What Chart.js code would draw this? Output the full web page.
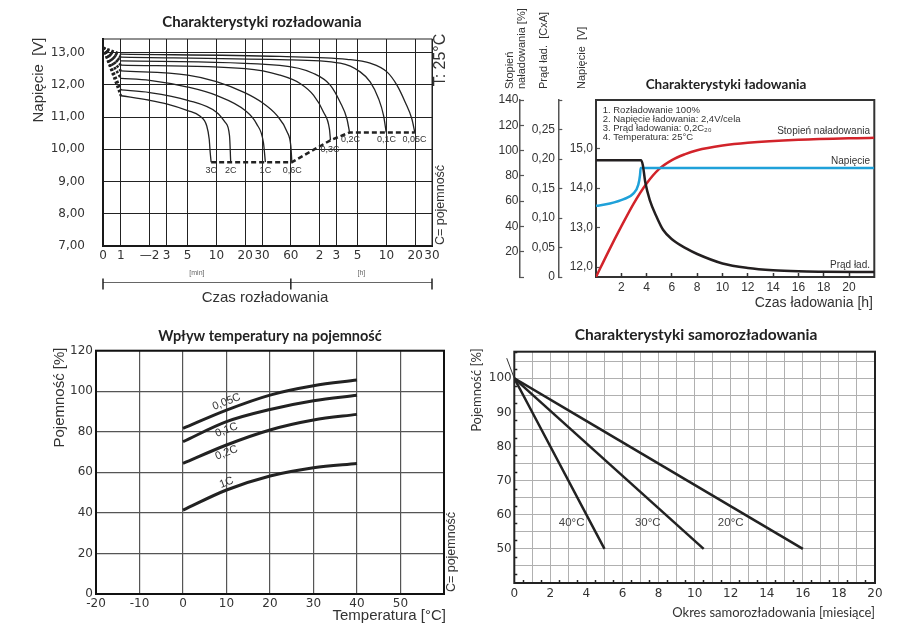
<!DOCTYPE html>
<html lang="pl">
<head>
<meta charset="utf-8">
<title>Charakterystyki akumulatora</title>
<script src="https://cdn.jsdelivr.net/npm/chart.js@4.4.1/dist/chart.umd.min.js"></script>
<style>
  html, body { margin: 0; padding: 0; background: #fff; }
  body { width: 916px; height: 637px; position: relative; overflow: hidden; }
  canvas { position: absolute; }
</style>
</head>
<body>
<canvas id="chart-discharge" width="460" height="312" style="left:0;top:0"></canvas>
<canvas id="chart-charge" width="456" height="312" style="left:460px;top:0"></canvas>
<canvas id="chart-temp" width="460" height="325" style="left:0;top:312px"></canvas>
<canvas id="chart-self" width="456" height="325" style="left:460px;top:312px"></canvas>
<script>
// --- Charakterystyki rozładowania: czas [min], napięcie [V] ---
const dischargeTicks = [0.65, 1, 2, 3, 5, 10, 20, 30, 60, 120, 180, 300, 600, 1200, 1800];
const dischargeTickLabels = ['0', '1', '—2', '3', '5', '10', '20', '30', '60', '2', '3', '5', '10', '20', '30'];
const voltTicks = [7, 8, 9, 10, 11, 12, 13];
const rateNames = ['3C', '2C', '1C', '0,6C', '0,3C', '0,2C', '0,1C', '0,05C'];
const curve3C = [[1, 11.66], [2, 11.52], [3, 11.41], [5, 11.2], [6.7, 11.03], [7.9, 10.73], [8.4, 10.31], [8.6, 9.9], [8.8, 9.6]];
const curve2C = [[1, 11.84], [2, 11.76], [5, 11.52], [10, 11.15], [12.3, 10.84], [13.7, 10.42], [14.1, 9.6]];
const curve1C = [[1, 12.2], [2, 12.14], [5, 11.93], [10, 11.67], [20, 11.2], [26.4, 10.78], [31, 10.21], [32.5, 9.6]];
const curve06C = [[1, 12.43], [5, 12.3], [10, 12.1], [20, 11.75], [30, 11.45], [42.9, 11.05], [54.6, 10.55], [60, 10.1], [61.5, 9.6]];
const curve03C = [[1, 12.61], [20, 12.5], [46, 12.3], [75, 12.04], [104, 11.67], [132, 11.15], [152, 10.63], [156, 10.28]];
const curve02C = [[1, 12.74], [46, 12.6], [104, 12.35], [155, 11.99], [197, 11.46], [232, 10.94], [247, 10.52]];
const curve01C = [[1, 12.86], [46, 12.78], [197, 12.67], [319, 12.4], [406, 12.09], [497, 11.57], [560, 11.05], [597, 10.52]];
const curve005C = [[1, 12.95], [46, 12.88], [232, 12.79], [406, 12.67], [608, 12.4], [773, 11.99], [944, 11.46], [1109, 10.94], [1190, 10.52]];
const cutoffLine = [[8.8, 9.6], [61.5, 9.6], [156, 10.28], [247, 10.52], [1190, 10.52]];
const fanStart = [0.65, 13.15];
// positions of the rate labels under the curve ends [min, V]
const rateLabelPos = [[8.8, 9.33], [14.1, 9.33], [32.5, 9.33], [62, 9.33], [154, 9.98], [252, 10.29], [600, 10.29], [1180, 10.29]];

// --- Charakterystyki ładowania: czas [h] ---
const chargeTicksX = [2, 4, 6, 8, 10, 12, 14, 16, 18, 20];
const levelHours = [0, 1, 2, 3, 4, 5, 6, 7, 8, 10, 12, 16, 22];
const levelPct = [0, 20.5, 40, 58.5, 74, 85.5, 92.5, 97, 100.3, 104, 106.2, 108.5, 110.2];
const voltHours = [0, 1.1, 2.2, 2.95, 3.34, 3.48, 3.53, 22];
const voltValues = [13.55, 13.61, 13.72, 13.86, 14.08, 14.33, 14.51, 14.51];
const currHours = [0, 3.55, 3.7, 3.9, 4.26, 4.79, 5.3, 6, 7.16, 8, 10, 12, 14, 16, 18, 22];
const currValues = [0.198, 0.198, 0.19, 0.16, 0.13, 0.102, 0.08, 0.064, 0.048, 0.039, 0.023, 0.0153, 0.0114, 0.0096, 0.009, 0.0085];
const chargeVoltTicks = [12, 13, 14, 15];

// --- Wpływ temperatury na pojemność: temperatura [°C], pojemność [%] ---
const tempC = [0, 10, 20, 30, 40];
const cap005C = [81.7, 90.7, 98.1, 102.7, 105.5];
const cap01C = [75.1, 85, 91, 95.3, 98];
const cap02C = [64.4, 73.5, 80.9, 85.8, 88.6];
const cap1C = [41.4, 51.3, 58.2, 62.3, 64.4];
const tempLabels = ['0,05C', '0,1C', '0,2C', '1C'];
const tempLabelPos = [[10, 94.8], [10, 80.9], [10, 69.7], [10, 54.9]];

// --- Charakterystyki samorozładowania: okres [miesiące], pojemność [%] ---
const months40 = [0, 5];
const months30 = [0, 10.5];
const months20 = [0, 16];
const selfCap = [100, 50];
const stubMonths = [-0.42, 0];
const stubCap = [105.9, 100];
const selfNames = ['40°C', '30°C', '20°C'];
const selfLabelPos = [[3.18, 57.5], [7.4, 57.5], [12, 57.5]];

Chart.defaults.font.family = '"Liberation Sans", Arial, sans-serif';
Chart.defaults.color = '#333';

function zip(xs, ys) { return xs.map((x, i) => ({ x: x, y: ys[i] })); }
function pairs(list) { return list.map(p => ({ x: p[0], y: p[1] })); }
function comma(v, d) { return v.toFixed(d).replace('.', ','); }

// keeps an axis box at a fixed size so the plot area lands where the picture has it
function fixBox(size) {
  return function (scale) {
    if (scale.isHorizontal()) scale.height = size; else scale.width = size;
    scale.paddingLeft = 0; scale.paddingRight = 0; scale.paddingTop = 0; scale.paddingBottom = 0;
  };
}
function setTicks(list) {
  return function (scale) { scale.ticks = list.map(v => ({ value: v })); };
}

function framePlugin(color, width) {
  return {
    id: 'frame',
    beforeDatasetsDraw(chart) {
      const a = chart.chartArea, ctx = chart.ctx;
      ctx.save();
      ctx.strokeStyle = color;
      ctx.lineWidth = width;
      ctx.strokeRect(a.left, a.top, a.right - a.left, a.bottom - a.top);
      ctx.restore();
    }
  };
}

function textPlugin(items) {
  return {
    id: 'texts',
    afterDatasetsDraw(chart) {
      const ctx = chart.ctx;
      items.forEach(t => {
        const x = t.xv !== undefined ? chart.scales[t.xs || 'x'].getPixelForValue(t.xv) : t.x;
        const y = t.yv !== undefined ? chart.scales[t.ys || 'y'].getPixelForValue(t.yv) : t.y;
        ctx.save();
        ctx.translate(x, y);
        if (t.rot) ctx.rotate(t.rot * Math.PI / 180);
        ctx.font = t.font;
        ctx.fillStyle = t.color || '#222';
        ctx.textAlign = t.align || 'center';
        ctx.textBaseline = 'middle';
        ctx.fillText(t.text, 0, 0);
        ctx.restore();
      });
    }
  };
}

function lineSet(data, color, width, extra) {
  return Object.assign({
    data: data, borderColor: color, borderWidth: width, pointRadius: 0,
    fill: false, cubicInterpolationMode: 'monotone'
  }, extra || {});
}

const numFont = { family: '"DejaVu Sans", sans-serif', size: 12 };

// ================= 1. Charakterystyki rozładowania =================
(function () {
  const curves = [curve3C, curve2C, curve1C, curve06C, curve03C, curve02C, curve01C, curve005C];
  const datasets = [];
  curves.forEach(c => {
    datasets.push(lineSet(pairs([fanStart, c[0]]), '#222', 2.6, { borderDash: [2.5, 2], cubicInterpolationMode: 'default', tension: 0 }));
    datasets.push(lineSet(pairs(c), '#222', 1.3));
  });
  datasets.push(lineSet(pairs(cutoffLine), '#222', 2.5, { borderDash: [5, 3], cubicInterpolationMode: 'default', tension: 0 }));

  const items = [
    { text: 'Charakterystyki rozładowania', x: 262, y: 22, font: 'bold 15px Lato' },
    { text: 'Napięcie  [V]', x: 39, y: 80, rot: -90, font: '15px "Liberation Sans"', color: '#333' },
    { text: 'Czas rozładowania', x: 265, y: 298, font: '15px "Liberation Sans"', color: '#333' },
    { text: 'T: 25°C', x: 441, y: 60, rot: -90, font: '16px "Liberation Sans"', color: '#333' },
    { text: 'C= pojemność', x: 441, y: 205, rot: -90, font: '12.5px "Liberation Sans"', color: '#333' }
  ];
  rateNames.forEach((n, i) => items.push({ text: n, xv: rateLabelPos[i][0], yv: rateLabelPos[i][1], font: '9px "Liberation Sans"', color: '#333' }));

  const bracketPlugin = {
    id: 'bracket',
    afterDraw(chart) {
      const sx = chart.scales.x, ctx = chart.ctx;
      const x0 = sx.getPixelForValue(dischargeTicks[0]);
      const x1 = sx.getPixelForValue(60);
      const x2 = sx.getPixelForValue(dischargeTicks[dischargeTicks.length - 1]);
      const y = 282.5;
      ctx.save();
      ctx.strokeStyle = '#666';
      ctx.lineWidth = 1;
      ctx.beginPath();
      ctx.moveTo(x0, y); ctx.lineTo(x2, y);
      ctx.stroke();
      ctx.strokeStyle = '#222';
      ctx.lineWidth = 1.5;
      ctx.beginPath();
      [x0, x1, x2].forEach(x => { ctx.moveTo(x, y - 4); ctx.lineTo(x, y + 7); });
      ctx.stroke();
      ctx.font = '7px "Liberation Sans"';
      ctx.fillStyle = '#666';
      ctx.textAlign = 'center';
      ctx.textBaseline = 'middle';
      ctx.fillText('[min]', (x0 + x1) / 2, 273);
      ctx.fillText('[h]', (x1 + x2) / 2, 273);
      ctx.restore();
    }
  };

  new Chart(document.getElementById('chart-discharge'), {
    type: 'line',
    data: { datasets: datasets },
    options: {
      responsive: false, animation: false, events: [], devicePixelRatio: 1,
      layout: { padding: { left: 0, top: 39, right: 28, bottom: 0 } },
      plugins: { legend: { display: false }, tooltip: { enabled: false } },
      scales: {
        x: {
          type: 'logarithmic', min: dischargeTicks[0], max: dischargeTicks[dischargeTicks.length - 1],
          afterBuildTicks: setTicks(dischargeTicks), afterFit: fixBox(66),
          grid: { color: '#222', lineWidth: 1, drawTicks: false },
          border: { display: true, color: '#111', width: 2 },
          ticks: { font: numFont, color: '#333', padding: 3, autoSkip: false, maxRotation: 0,
            callback: (v, i) => dischargeTickLabels[i] }
        },
        y: {
          type: 'linear', min: 7, max: 13.42,
          afterBuildTicks: setTicks(voltTicks), afterFit: fixBox(103),
          grid: { color: '#222', lineWidth: 1, drawTicks: false },
          border: { display: true, color: '#111', width: 2 },
          ticks: { font: numFont, color: '#333', padding: 18, callback: v => comma(v, 2) }
        }
      }
    },
    plugins: [framePlugin('#222', 1), textPlugin(items), bracketPlugin]
  });
})();

// ================= 2. Charakterystyki ładowania =================
(function () {
  const red = '#d2232a', blue = '#1fa1d9', black = '#231f20';
  const items = [
    { text: 'Charakterystyki ładowania', x: 266, y: 85, font: 'bold 13.5px Lato' },
    { text: 'Stopień', x: 50, y: 89, rot: -90, align: 'left', font: '11px "Liberation Sans"', color: '#333' },
    { text: 'naładowania [%]', x: 61.7, y: 89, rot: -90, align: 'left', font: '11px "Liberation Sans"', color: '#333' },
    { text: 'Prąd ład.  [CxA]', x: 84, y: 89, rot: -90, align: 'left', font: '11px "Liberation Sans"', color: '#333' },
    { text: 'Napięcie  [V]', x: 121.7, y: 89, rot: -90, align: 'left', font: '11px "Liberation Sans"', color: '#333' },
    { text: '1. Rozładowanie 100%', x: 142.7, y: 110.7, align: 'left', font: '9.5px "Liberation Sans"', color: '#333' },
    { text: '2. Napięcie ładowania: 2,4V/cela', x: 142.7, y: 119.7, align: 'left', font: '9.5px "Liberation Sans"', color: '#333' },
    { text: '3. Prąd ładowania: 0,2C₂₀', x: 142.7, y: 128.5, align: 'left', font: '9.5px "Liberation Sans"', color: '#333' },
    { text: '4. Temperatura: 25°C', x: 142.7, y: 137, align: 'left', font: '9.5px "Liberation Sans"', color: '#333' },
    { text: 'Stopień naładowania', x: 410, y: 131, align: 'right', font: '10px "Liberation Sans"', color: '#333' },
    { text: 'Napięcie', x: 410, y: 161, align: 'right', font: '10px "Liberation Sans"', color: '#333' },
    { text: 'Prąd ład.', x: 410, y: 265, align: 'right', font: '10px "Liberation Sans"', color: '#333' },
    { text: 'Czas ładowania [h]', x: 413, y: 303, align: 'right', font: '14px "Liberation Sans"', color: '#333' }
  ];
  const tickFont = { family: '"Liberation Sans"', size: 12 };
  const sideAxis = (extra) => Object.assign({
    type: 'linear', position: 'left',
    grid: { drawOnChartArea: false, drawTicks: true, tickLength: -4, tickColor: '#555', tickWidth: 1.2 },
    border: { display: true, color: '#555', width: 1.5 }
  }, extra);

  new Chart(document.getElementById('chart-charge'), {
    type: 'line',
    data: {
      datasets: [
        lineSet(zip(currHours, currValues), black, 2.5, { yAxisID: 'yCur' }),
        lineSet(zip(voltHours, voltValues), blue, 2.5, { yAxisID: 'yV' }),
        lineSet(zip(levelHours, levelPct), red, 2.5, { yAxisID: 'yPct' })
      ]
    },
    options: {
      responsive: false, animation: false, events: [], devicePixelRatio: 1,
      layout: { padding: { left: 0, top: 100, right: 41.7, bottom: 0 } },
      plugins: { legend: { display: false }, tooltip: { enabled: false } },
      scales: {
        x: {
          type: 'linear', min: 0, max: 22,
          afterBuildTicks: setTicks(chargeTicksX), afterFit: fixBox(35),
          grid: { drawOnChartArea: false, drawTicks: true, tickLength: -4, tickColor: '#333', tickWidth: 1.5 },
          border: { display: false },
          ticks: { font: tickFont, color: '#333', padding: 7, autoSkip: false, maxRotation: 0 }
        },
        yPct: sideAxis({
          weight: 3, min: 0, max: 140, afterFit: fixBox(60),
          ticks: { stepSize: 20, font: tickFont, color: '#333', padding: 5.5, callback: v => v === 0 ? '' : String(v) }
        }),
        yCur: sideAxis({
          weight: 2, min: 0, max: 0.3, afterFit: fixBox(38.3),
          ticks: { stepSize: 0.05, font: tickFont, color: '#333', padding: 7.3,
            callback: v => v === 0 ? '0' : (v > 0.26 ? '' : comma(v, 2)) }
        }),
        yV: sideAxis({
          weight: 1, min: 11.75, max: 16.23, afterFit: fixBox(37.7),
          afterBuildTicks: setTicks(chargeVoltTicks),
          border: { display: false },
          ticks: { font: tickFont, color: '#333', padding: 7, callback: v => comma(v, 1) }
        })
      }
    },
    plugins: [framePlugin('#333', 2), textPlugin(items)]
  });
})();

// ================= 3. Wpływ temperatury na pojemność =================
(function () {
  const series = [cap005C, cap01C, cap02C, cap1C];
  const items = [
    { text: 'Wpływ temperatury na pojemność', x: 270, y: 24, font: 'bold 14.5px Lato' },
    { text: 'Pojemność [%]', x: 60, y: 85.5, rot: -90, font: '15px "Liberation Sans"', color: '#333' },
    { text: 'Temperatura [°C]', x: 446, y: 304, align: 'right', font: '15px "Liberation Sans"', color: '#333' },
    { text: 'C= pojemność', x: 452, y: 240, rot: -90, font: '12.5px "Liberation Sans"', color: '#333' }
  ];
  tempLabels.forEach((n, i) => items.push({ text: n, xv: tempLabelPos[i][0], yv: tempLabelPos[i][1], rot: -21, font: '11px "Liberation Sans"', color: '#333' }));

  new Chart(document.getElementById('chart-temp'), {
    type: 'line',
    data: { datasets: series.map(s => lineSet(zip(tempC, s), '#222', 3)) },
    options: {
      responsive: false, animation: false, events: [], devicePixelRatio: 1,
      layout: { padding: { left: 0, top: 38.7, right: 16, bottom: 0 } },
      plugins: { legend: { display: false }, tooltip: { enabled: false } },
      scales: {
        x: {
          type: 'linear', min: -20, max: 60, afterFit: fixBox(43),
          grid: { color: '#555', lineWidth: 1.2, drawTicks: false },
          border: { display: false },
          ticks: { stepSize: 10, font: numFont, color: '#333', padding: 3, autoSkip: false, maxRotation: 0,
            callback: v => v > 50 ? '' : String(v) }
        },
        y: {
          type: 'linear', min: 0, max: 120, afterFit: fixBox(96),
          grid: { color: '#555', lineWidth: 1.2, drawTicks: false },
          border: { display: false },
          ticks: { stepSize: 20, font: numFont, color: '#333', padding: 3 }
        }
      }
    },
    plugins: [framePlugin('#111', 2), textPlugin(items)]
  });
})();

// ================= 4. Charakterystyki samorozładowania =================
(function () {
  const xTicks = [], yTicks = [];
  for (let m = 0; m <= 20; m += 0.5) xTicks.push(m);
  for (let p = 40; p <= 107.5; p += 2.5) yTicks.push(p);
  const items = [
    { text: 'Charakterystyki samorozładowania', x: 236, y: 23, font: 'bold 15.5px Lato' },
    { text: 'Pojemność [%]', x: 17.3, y: 78, rot: -90, font: '13px Lato', color: '#333' },
    { text: 'Okres samorozładowania [miesiące]', x: 415, y: 301.3, align: 'right', font: '13px Lato', color: '#333' }
  ];
  selfNames.forEach((n, i) => items.push({ text: n, xv: selfLabelPos[i][0], yv: selfLabelPos[i][1], font: '11.5px "Liberation Sans"', color: '#444' }));
  const clear = 'rgba(0,0,0,0)';

  new Chart(document.getElementById('chart-self'), {
    type: 'line',
    data: {
      datasets: [
        lineSet(zip(months40, selfCap), '#222', 2.5),
        lineSet(zip(months30, selfCap), '#222', 2.5),
        lineSet(zip(months20, selfCap), '#222', 2.5),
        lineSet(zip(stubMonths, stubCap), '#333', 1, { clip: false })
      ]
    },
    options: {
      responsive: false, animation: false, events: [], devicePixelRatio: 1,
      layout: { padding: { left: 0, top: 39.7, right: 41, bottom: 0 } },
      plugins: { legend: { display: false }, tooltip: { enabled: false } },
      scales: {
        x: {
          type: 'linear', min: 0, max: 20, afterBuildTicks: setTicks(xTicks), afterFit: fixBox(54),
          grid: {
            color: c => (c.tick && c.tick.value % 1 === 0) ? '#b0b0b0' : clear,
            tickColor: c => (c.tick && c.tick.value % 1 !== 0) ? '#222' : clear,
            lineWidth: 1, drawTicks: true, tickLength: -3, tickWidth: 1.5
          },
          border: { display: false },
          ticks: { font: numFont, color: '#333', padding: 7, autoSkip: false, maxRotation: 0,
            callback: v => v % 2 === 0 ? String(v) : '' }
        },
        y: {
          type: 'linear', min: 40, max: 107.8, afterBuildTicks: setTicks(yTicks), afterFit: fixBox(54.3),
          grid: {
            color: c => (c.tick && c.tick.value % 5 === 0) ? '#b0b0b0' : clear,
            tickColor: c => (c.tick && c.tick.value % 5 !== 0) ? '#222' : clear,
            lineWidth: 1, drawTicks: true, tickLength: -3, tickWidth: 1.5
          },
          border: { display: false },
          ticks: { font: numFont, color: '#333', padding: 5.6, autoSkip: false,
            callback: v => (v % 10 === 0 && v >= 50 && v <= 100) ? String(v) : '' }
        }
      }
    },
    plugins: [framePlugin('#222', 2), textPlugin(items)]
  });
})();
</script>
</body>
</html>
